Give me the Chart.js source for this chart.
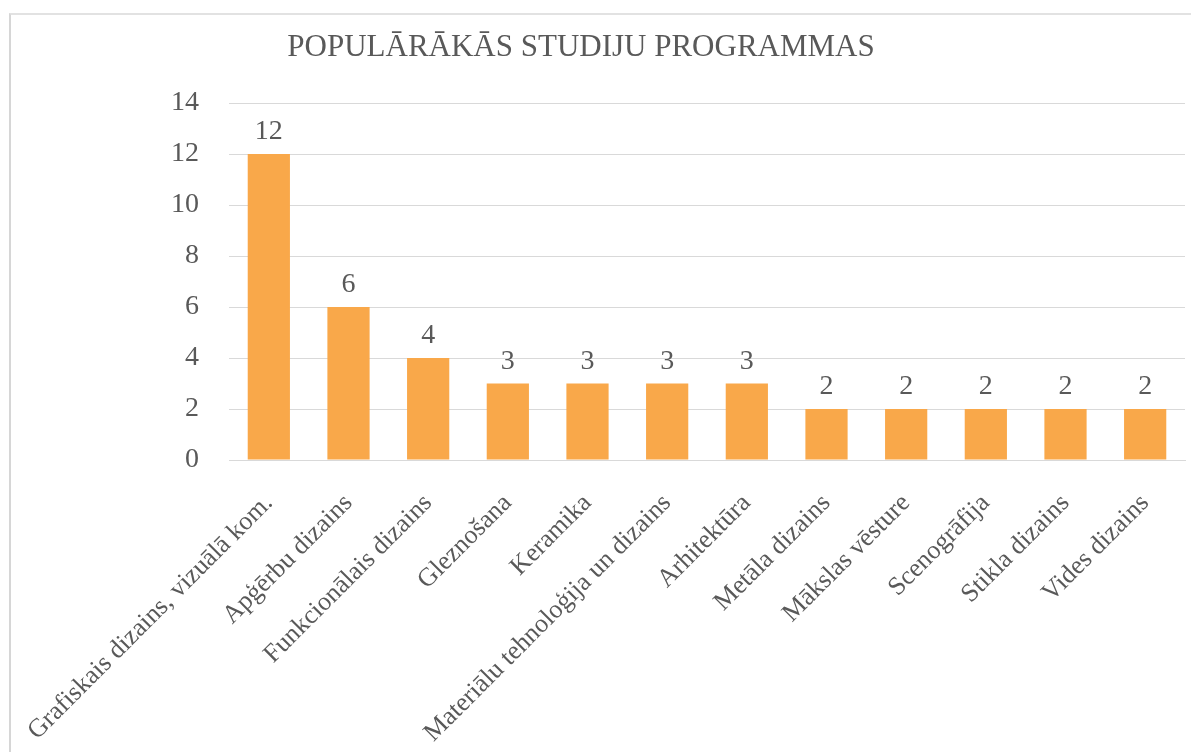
<!DOCTYPE html>
<html>
<head>
<meta charset="utf-8">
<script src="https://cdn.jsdelivr.net/npm/chart.js@4"></script>
<style>
  html, body { margin: 0; padding: 0; background: #fff; }
  #wrap { position: relative; width: 1202px; height: 752px; }
  #frame { position: absolute; left: 9px; top: 13px; width: 1180px; height: 760px;
           border-left: 2px solid #d6d6d6; border-top: 2px solid #e2e2e2; }
  canvas { position: absolute; left: 0; top: 0; }
</style>
</head>
<body>
<div id="wrap">
  <div id="frame"></div>
  <canvas id="c" width="1202" height="752"></canvas>
</div>
<script>
const titleText = "POPULĀRĀKĀS STUDIJU PROGRAMMAS";
const categories = [
  "Grafiskais dizains, vizuālā kom.",
  "Apģērbu dizains",
  "Funkcionālais dizains",
  "Gleznošana",
  "Keramika",
  "Materiālu tehnoloģija un dizains",
  "Arhitektūra",
  "Metāla dizains",
  "Mākslas vēsture",
  "Scenogrāfija",
  "Stikla dizains",
  "Vides dizains"
];
const counts = [12, 6, 4, 3, 3, 3, 3, 2, 2, 2, 2, 2];
const yTicks = [0, 2, 4, 6, 8, 10, 12, 14];

const textColor = "#595959";
const serif = "'Liberation Serif', 'Times New Roman', serif";

const valueLabels = {
  id: "valueLabels",
  afterDatasetsDraw(chart) {
    const ctx = chart.ctx;
    const meta = chart.getDatasetMeta(0);
    ctx.save();
    ctx.font = "28px " + serif;
    ctx.fillStyle = textColor;
    ctx.textAlign = "center";
    ctx.textBaseline = "alphabetic";
    meta.data.forEach((bar, i) => {
      ctx.fillText(String(chart.data.datasets[0].data[i]), bar.x, bar.y - 15);
    });
    ctx.restore();
  }
};

const customTitle = {
  id: "customTitle",
  afterDraw(chart) {
    const ctx = chart.ctx;
    ctx.save();
    ctx.font = "31px " + serif;
    ctx.fillStyle = textColor;
    ctx.textAlign = "center";
    ctx.textBaseline = "alphabetic";
    ctx.fillText(titleText, 581, 56);
    ctx.restore();
  }
};

new Chart(document.getElementById("c"), {
  type: "bar",
  data: {
    labels: categories,
    datasets: [{
      data: counts,
      backgroundColor: "#F9A84A",
      borderWidth: 0,
      barPercentage: 0.53,
      categoryPercentage: 1.0
    }]
  },
  options: {
    responsive: false,
    animation: false,
    layout: { padding: { left: 0, right: 17, top: 103, bottom: 0 } },
    plugins: {
      legend: { display: false },
      title: { display: false },
      tooltip: { enabled: false }
    },
    scales: {
      x: {
        grid: { display: false, drawTicks: false },
        border: { display: true, color: "#d9d9d9", width: 1 },
        ticks: {
          color: textColor,
          font: { family: serif, size: 26 },
          minRotation: 45,
          maxRotation: 45,
          autoSkip: false,
          padding: 28
        },
        afterFit(scale) {
          scale.height = 752 - 460;
          scale.paddingLeft = 0;
          scale.paddingRight = 0;
        }
      },
      y: {
        min: 0,
        max: 14,
        afterBuildTicks(scale) { scale.ticks = yTicks.map(v => ({ value: v })); },
        grid: { color: "#d9d9d9", lineWidth: 1, drawTicks: false },
        border: { display: false },
        ticks: {
          color: textColor,
          font: { family: serif, size: 28 },
          padding: 30
        },
        afterFit(scale) { scale.width = 229; }
      }
    }
  },
  plugins: [valueLabels, customTitle]
});
</script>
</body>
</html>
